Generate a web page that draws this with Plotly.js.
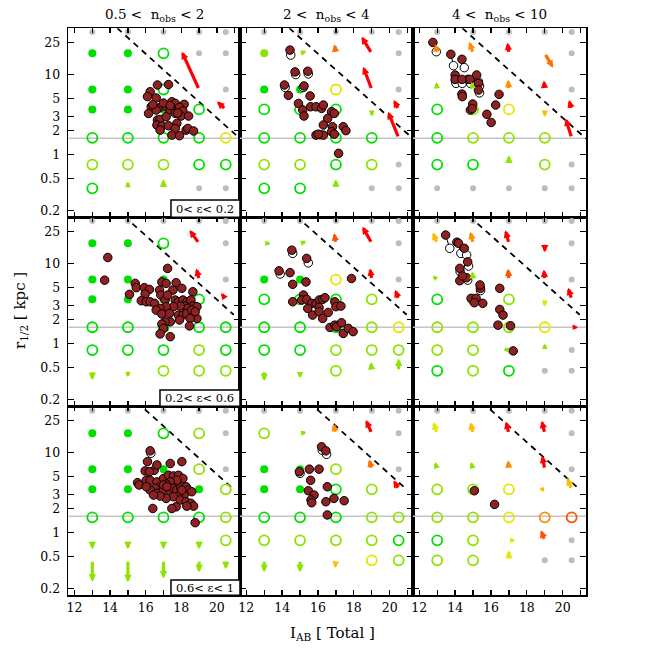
<!DOCTYPE html>
<html><head><meta charset="utf-8">
<script src="https://cdn.plot.ly/plotly-3.0.1.min.js"></script>
<style>body{margin:0;background:#fff}</style>
</head><body><div id="chart" style="width:654px;height:654px"></div>
<script>
// ---------------- data ----------------
const colTitles = ['0.5 <  n<sub>obs</sub> < 2', '2 <  n<sub>obs</sub> < 4', '4 <  n<sub>obs</sub> < 10'];
const rowLabels = ['0< ε< 0.2', '0.2< ε< 0.6', '0.6< ε< 1'];
const xTitle = 'I<sub>AB</sub> [ Total ]';
const yTitle = 'r<sub>1/2</sub> [ kpc ]';
const gridX = [13, 15, 17, 19, 20.5];
const gridR_row1 = [34, 18.4, 6.5, 3.67, 1.62, 0.75, 0.378];
const gridR_row2 = [34, 17.9, 6.3, 3.57, 1.6, 0.83, 0.457];
const gridR_row3 = [33.4, 17.4, 6.2, 3.47, 1.55, 0.8, 0.45];
const sizeLimit = 1.6;
const xTickVals = [12,13,14,15,16,17,18,19,20,21];
const xTickText = ['12','','14','','16','','18','','20',''];
const yTickVals = [0.2, 0.5, 1, 2, 3, 5, 10, 25];
const yTickText = ['0.2','0.5','1','2','3','5','10','25'];
const dashX_row1 = [14.4, 21.3], dashR_row1 = [38, 1.58];
const dashX_row2 = [15.25, 20.95], dashR_row2 = [31.6, 2.29];
const dashX_row3 = [15.95, 20.95], dashR_row3 = [34.7, 3.45];

// grid cells: g = grey dot, F = filled, o = open circle, a = arrow (see arrows_*); letter = colour key
const cells_11 = ['g g g g g','F F oG g g','F F oG a g','F F F oG a','oG oG oG oG oY','oL oL oL oG oG','oG a a g g'];
const cells_12 = ['g g g g g','FL a a a g','F F oY a g','oG oG oG a a','oG oG oG oG a','oL oL oG oL g','oG oG a g g'];
const cells_13 = ['g g g g g','a a a a g','a a a a g','oG oL oY a a','oG oL oL oL a','oG oG a oL g','g g g g g'];
const cells_21 = ['g g g g g','F F oG a g','F F F a g','F F F oG a','oG oG oG oG oG','oG oG oG oL oG','a a oL oL oL'];
const cells_22 = ['g g g g g','a a a a g','F F oY a g','oG oG oG oL a','oG oG oG oL oY','oG oG oL oL oL','a a oL a a'];
const cells_23 = ['g g g g g','a a a a g','a a a a g','oG oL oL a a','oL oL oL oY a','oL oL a a g','oG oL oG g g'];
const cells_31 = ['g g g g g','F F oG oL g','F F F oL g','F F F F oL','oG oG oG oG oL','a a a a oL','a a a a a'];
const cells_32 = ['g g g g g','oL a a a g','F F oL a g','F F oG oL a','oG oG oG oL oL','oL oL oL oL oG','a a a oY oL'];
const cells_33 = ['g g g g g','a a a a g','a a a a g','oL oL oY a a','oL oL oY oO oQ','oG oL a a g','oL oL a g g'];

// arrows: [start x, start level, end x, end r, colour key]
const arrows_11 = [[19,2,18.03,19.3,'R'],[20.5,3,20.0,4.6,'R'],[15,6,15,0.46,'L'],[17,6,17,0.49,'L']];
const arrows_12 = [[15,1,15.35,19.5,'L'],[17,1,16.92,24,'P'],[19,1,18.43,29.7,'R'],[19,2,18.52,12.5,'R'],[19,3,19.0,3.0,'L'],[20.5,3,20.22,4.8,'R'],[20.5,4,19.91,3.43,'R'],[17,6,17,0.49,'L']];
const arrows_13 = [[13,1,12.9,24,'O'],[15,1,14.79,25.7,'O'],[17,1,16.92,25,'R'],[19,1,19.46,12.2,'P'],[13,2,12.95,8.0,'L'],[15,2,14.9,8.0,'L'],[17,2,16.95,8.6,'O'],[19,2,18.95,8.4,'R'],[19,3,19.0,2.95,'A'],[20.5,3,20.35,4.8,'R'],[20.5,4,20.16,2.83,'R'],[17,5,17.0,0.98,'L']];
const arrows_21 = [[19,1,18.46,26.2,'R'],[19,2,18.85,8.7,'R'],[20.5,3,20.24,4.3,'R'],[13,6,13,0.35,'L'],[15,6,15,0.38,'L']];
const arrows_22 = [[13,1,13.35,17.9,'L'],[15,1,15.35,18.8,'L'],[17,1,16.9,24,'Q'],[19,1,18.48,28.9,'R'],[19,2,18.9,8.7,'R'],[20.5,3,20.3,4.7,'R'],[13,6,13,0.34,'L'],[15,6,15,0.37,'L'],[19,6,18.95,0.59,'L'],[20.5,6,20.5,0.65,'L']];
const arrows_23 = [[13,1,12.76,24.5,'A'],[15,1,14.85,25,'O'],[17,1,16.8,26,'R'],[19,1,19.0,13.8,'R'],[13,2,12.75,7.0,'L'],[15,2,14.95,8.0,'L'],[17,2,16.95,8.6,'Q'],[19,2,18.95,8.4,'R'],[19,3,19.0,2.9,'Y'],[20.5,3,20.3,5.0,'R'],[20.5,4,20.85,1.6,'R'],[17,5,16.7,0.85,'L'],[19,5,19.0,1.0,'L']];
const arrows_31 = [[13,5,13,0.62,'L'],[15,5,15,0.62,'L'],[17,5,17,0.62,'L'],[19,5,19,0.62,'L'],[13,6,13,0.243,'L'],[15,6,15,0.24,'L'],[17,6,17,0.267,'L'],[19,6,19,0.32,'L'],[20.5,6,20.5,0.35,'L']];
const arrows_32 = [[15,1,15.35,17.8,'L'],[17,1,16.85,23,'O'],[19,1,18.67,25.5,'R'],[19,2,18.85,8.2,'P'],[20.5,3,20.22,4.5,'R'],[13,6,13,0.32,'L'],[15,6,15,0.32,'L'],[17,6,16.95,0.36,'A']];
const arrows_33 = [[13,1,12.78,24,'Y'],[15,1,14.85,24,'A'],[17,1,16.83,24.5,'R'],[19,1,18.83,25,'R'],[13,2,12.88,7.6,'L'],[15,2,14.88,7.6,'L'],[17,2,16.95,8.0,'O'],[19,2,18.85,9.2,'R'],[19,3,18.7,3.5,'A'],[20.5,3,20.25,4.8,'A'],[17,5,17.35,0.8,'Y'],[19,5,18.78,1.07,'Q'],[17,6,17,0.6,'Y']];

// observed galaxies (dark red); pairs: solid point linked to open circle
const redX_11 = [16.66,17.28,16.25,16.10,16.59,17.47,17.66,18.16,16.31,16.78,17.15,17.90,16.16,16.59,17.38,18.09,16.66,16.81,17.15,17.66,17.99,18.41,16.63,16.91,17.28,17.75,16.81,17.66,18.27,18.37,18.69,17.47,17.90,17.0,17.38,16.4,17.8];
const redR_11 = [7.4,7.5,6.1,5.3,5.1,4.57,4.36,4.24,3.96,3.85,3.96,3.89,3.27,3.6,3.6,3.5,2.7,2.75,2.97,3.27,3.03,3.03,2.34,2.27,2.29,2.45,2.02,2.12,2.02,2.12,1.97,1.75,1.72,4.4,4.1,4.2,3.3];
const redX_12 = [14.35,15.56,14.91,15.15,15.22,15.59,15.89,16.2,16.3,16.76,16.91,16.54,16.3,16.81,15.89,16.11,16.3,16.02,16.76,16.91,17.41,17.56,17.15];
const redR_12 = [5.5,5.4,4.36,3.6,3.03,3.96,3.96,3.78,4.16,3.43,3.27,2.83,2.34,2.23,1.75,1.77,1.75,1.8,1.93,1.8,2.23,1.99,1.035];
const pSolX_12 = [14.44,14.72,15.43,14.13,15.22], pSolR_12 = [20.2,10.8,11.0,7.4,7.2];
const pOpenX_12 = [14.48,14.76,15.46,14.17,15.18], pOpenR_12 = [17.5,10.0,10.2,6.9,6.9];
const redX_13 = [14.7,14.38,14.4,14.98,14.85,15.77,16.01,16.26,16.45,14.95];
const redR_13 = [8.7,5.7,5.3,4.28,3.6,3.18,2.52,4.16,5.65,3.75];
const pSolX_13 = [12.76,13.76,14.38,14.0,14.0,14.38,14.83,15.2,15.3,15.3], pSolR_13 = [25.2,17.9,15.5,9.86,8.7,8.7,8.7,9.86,7.76,6.4];
const pOpenX_13 = [12.95,13.91,14.51,14.02,14.05,14.4,14.85,15.3,15.36,15.36], pOpenR_13 = [19.3,12.9,12.2,8.3,7.76,7.76,7.76,8.14,7.2,5.9];
const redX_21 = [13.87,13.69,15.41,15.47,15.09,15.92,16.21,15.97,15.75,16.03,16.25,16.5,16.78,16.91,17.23,17.15,17.71,17.53,18.03,18.65,16.85,17.09,17.23,17.66,17.84,18.09,18.31,18.54,18.65,18.88,18.16,18.37,17.94,17.56,17.15,16.81,16.59,16.91,17.34,17.84,18.09,18.31,18.69,18.88,18.5,17.9,17.38,17.09,16.91,17.0,18.46,16.81,17.38,18.59,18.78];
const redR_21 = [11.9,6.2,5.65,5.0,4.12,5.0,4.75,4.16,3.43,3.33,3.33,3.18,4.66,5.9,8.7,5.65,5.76,4.66,4.9,4.44,4.04,3.5,4.04,3.5,3.33,3.5,3.33,3.5,2.94,2.89,2.94,2.75,2.94,2.89,2.89,2.75,2.62,2.34,2.38,2.27,2.27,2.38,2.38,2.06,2.06,1.97,1.87,1.87,1.75,1.55,1.66,1.32,1.22,2.62,2.5];
const redX_22 = [14.44,14.59,15.33,17.87,15.19,15.09,14.59,15.37,15.65,15.89,16.07,16.26,16.39,15.43,15.7,16.06,16.06,16.26,16.57,16.94,17.0,17.28,16.67,16.94,17.04,17.31,17.41,17.69,17.96];
const redR_22 = [7.7,5.5,5.9,6.5,4.04,3.5,3.33,3.57,3.18,3.18,3.5,3.57,3.74,2.75,2.27,2.83,2.5,2.06,2.45,3.33,2.89,2.94,1.59,1.7,1.62,1.82,1.34,1.55,1.41];
const pSolX_22 = [14.54,15.37,13.83], pSolR_22 = [14.7,11.6,8.1];
const pOpenX_22 = [14.59,15.46,13.89], pOpenR_22 = [13.4,10.2,7.4];
const redX_23 = [14.1,14.26,14.64,15.41,16.49,14.89,15.17,15.07,15.54,16.49,16.67,16.39,17.09,17.24];
const redR_23 = [18.5,6.1,6.65,4.9,4.9,3.67,3.67,3.24,3.18,2.67,2.27,1.7,1.67,0.81];
const pSolX_23 = [13.47,14.19,14.51,14.7,14.26,14.41,15.39], pSolR_23 = [22.7,17.9,15.5,10.5,8.7,7.0,5.4];
const pOpenX_23 = [13.7,14.32,14.64,14.75,14.28,14.7,15.42], pOpenR_23 = [15.5,13.4,12.8,9.3,7.9,6.2,4.6];
const redX_31 = [16.1,17.38,18.03,15.97,16.48,16.21,16.63,15.54,15.63,16.03,16.25,16.63,17.0,17.28,17.56,17.84,18.09,17.75,17.38,17.15,16.81,16.53,16.25,16.03,16.63,17.0,17.34,17.56,17.75,17.97,18.27,18.41,18.59,18.16,17.84,17.56,17.15,16.81,16.44,17.94,18.27,18.54,18.69,18.31,17.71,17.47,16.4,18.78,17.0,17.19,18.03];
const redR_31 = [7.7,7.3,7.7,5.9,6.0,5.76,7.0,4.2,3.93,4.5,4.5,4.3,4.75,5.2,5.1,5.2,4.75,4.5,4.3,4.04,3.74,3.57,3.4,3.74,3.09,3.4,3.4,3.57,3.4,3.63,3.74,3.4,3.24,2.94,2.86,2.8,2.67,2.86,2.94,2.55,2.43,2.32,2.14,2.14,2.1,2.0,2.0,1.33,3.93,3.74,3.4];
const pSolX_31 = [16.25], pSolR_31 = [10.5], pOpenX_31 = [16.29], pOpenR_31 = [9.8];
const redX_32 = [15.52,16.06,15.59,15.46,15.78,15.61,15.65,16.44,16.52,16.89,17.46,16.52];
const redR_32 = [6.2,6.2,4.5,3.33,2.94,2.55,2.36,2.43,3.74,2.67,2.5,1.66];
const pSolX_32 = [16.2,16.44,14.96], pSolR_32 = [11.8,10.5,5.76];
const pOpenX_32 = [16.24,16.48,15.0], pOpenR_32 = [10.7,9.5,5.5];
const redX_33 = [15.07,16.2], redR_33 = [3.33,2.25];

// ---------------- styling ----------------
const FONT = 'DejaVu Serif';
const PALETTE = {G:'#00e000', L:'#8fe300', Y:'#e6e600', A:'#ffbb00', O:'#ff8c00', P:'#ff7000', Q:'#ff5000', R:'#ff0000'};
const GREY = '#bdbdbd';
const X_RANGE = [11.65, 21.3];
const Y_RANGE = [-0.784, 1.578];
const W = 654;
const PX_PER_MAG = 17.8, PX_PER_DEX = 80;
const xDom = [[68.3/W, 240/W],[240/W, 413/W],[413/W, 586/W]];
const yDom = [[1-217.3/W, 1-28.3/W],[1-406.3/W, 1-217.3/W],[1-595.3/W, 1-406.3/W]];
const boxX0 = [0.598, 0.534, 0.598];
const boxY1 = [0.0915, 0.086, 0.081];

const E = [];
const panels = [
 {cells:cells_11, arrows:arrows_11, rx:redX_11, rr:redR_11, sx:E, sr:E, ox:E, or:E, lv:gridR_row1, dx:dashX_row1, dr:dashR_row1},
 {cells:cells_12, arrows:arrows_12, rx:redX_12, rr:redR_12, sx:pSolX_12, sr:pSolR_12, ox:pOpenX_12, or:pOpenR_12, lv:gridR_row1, dx:dashX_row1, dr:dashR_row1},
 {cells:cells_13, arrows:arrows_13, rx:redX_13, rr:redR_13, sx:pSolX_13, sr:pSolR_13, ox:pOpenX_13, or:pOpenR_13, lv:gridR_row1, dx:dashX_row1, dr:dashR_row1},
 {cells:cells_21, arrows:arrows_21, rx:redX_21, rr:redR_21, sx:E, sr:E, ox:E, or:E, lv:gridR_row2, dx:dashX_row2, dr:dashR_row2},
 {cells:cells_22, arrows:arrows_22, rx:redX_22, rr:redR_22, sx:pSolX_22, sr:pSolR_22, ox:pOpenX_22, or:pOpenR_22, lv:gridR_row2, dx:dashX_row2, dr:dashR_row2},
 {cells:cells_23, arrows:arrows_23, rx:redX_23, rr:redR_23, sx:pSolX_23, sr:pSolR_23, ox:pOpenX_23, or:pOpenR_23, lv:gridR_row2, dx:dashX_row2, dr:dashR_row2},
 {cells:cells_31, arrows:arrows_31, rx:redX_31, rr:redR_31, sx:pSolX_31, sr:pSolR_31, ox:pOpenX_31, or:pOpenR_31, lv:gridR_row3, dx:dashX_row3, dr:dashR_row3},
 {cells:cells_32, arrows:arrows_32, rx:redX_32, rr:redR_32, sx:pSolX_32, sr:pSolR_32, ox:pOpenX_32, or:pOpenR_32, lv:gridR_row3, dx:dashX_row3, dr:dashR_row3},
 {cells:cells_33, arrows:arrows_33, rx:redX_33, rr:redR_33, sx:E, sr:E, ox:E, or:E, lv:gridR_row3, dx:dashX_row3, dr:dashR_row3}
];

const traces = [], annotations = [], shapes = [];
const layout = {
  width: 654, height: 654, margin:{l:0,r:0,t:0,b:0},
  paper_bgcolor:'white', plot_bgcolor:'white', showlegend:false, hovermode:false,
  font:{family:FONT, color:'black', size:12}
};

panels.forEach((p, i) => {
  const row = Math.floor(i/3), col = i%3;
  const s = i === 0 ? '' : String(i+1);
  const xa = 'x'+s, ya = 'y'+s;
  layout['xaxis'+s] = {
    domain: xDom[col], range: X_RANGE, anchor: ya, fixedrange:true,
    tickmode:'array', tickvals:xTickVals, ticktext:xTickText, showticklabels: row === 2,
    ticks:'inside', ticklen:5, tickwidth:1.3, tickcolor:'black',
    showline:true, linecolor:'black', linewidth:1.6, mirror:'allticks',
    showgrid:false, zeroline:false, tickfont:{family:FONT, size:12.5, color:'black'}
  };
  layout['yaxis'+s] = {
    domain: yDom[row], type:'log', range: Y_RANGE, anchor: xa, fixedrange:true,
    tickmode:'array', tickvals:yTickVals, ticktext:yTickText, showticklabels: col === 0,
    ticks:'inside', ticklen:6, tickwidth:1.3, tickcolor:'black', ticklabelstandoff:4,
    showline:true, linecolor:'black', linewidth:1.6, mirror:'allticks',
    showgrid:false, zeroline:false, tickfont:{family:FONT, size:12.5, color:'black'}
  };
  // grid markers
  const gx=[], gy=[], fx=[], fy=[], fc=[], ox=[], oy=[], oc=[];
  p.cells.forEach((line, lvl) => {
    line.split(' ').forEach((code, k) => {
      const x = gridX[k], r = p.lv[lvl];
      if (code === 'g') { gx.push(x); gy.push(r); }
      else if (code[0] === 'F') { fx.push(x); fy.push(r); fc.push(PALETTE[code[1] || 'G']); }
      else if (code[0] === 'o') { ox.push(x); oy.push(r); oc.push(PALETTE[code[1]]); }
    });
  });
  traces.push({x:X_RANGE, y:[sizeLimit, sizeLimit], xaxis:xa, yaxis:ya, mode:'lines', line:{color:'#c4c4c4', width:1.6}});
  traces.push({x:p.dx, y:p.dr, xaxis:xa, yaxis:ya, mode:'lines', line:{color:'black', width:1.8, dash:'6px,5px'}});
  traces.push({x:gx, y:gy, xaxis:xa, yaxis:ya, mode:'markers', marker:{color:GREY, size:6}});
  traces.push({x:fx, y:fy, xaxis:xa, yaxis:ya, mode:'markers', marker:{color:fc, size:8}});
  traces.push({x:ox, y:oy, xaxis:xa, yaxis:ya, mode:'markers', marker:{symbol:'circle-open', color:oc, size:10, line:{width:1.8}}});
  // arrows: head size follows arrow length (arrowsize has a floor of 0.3 in plotly)
  p.arrows.forEach(a => {
    const [x0, lvl, x1, r1, c] = a;
    const y0 = Math.log10(p.lv[lvl]), y1 = Math.log10(r1);
    const len = Math.hypot((x1-x0)*PX_PER_MAG, (y1-y0)*PX_PER_DEX);
    const w = 3.2;
    const head = Math.min(7.4, Math.max(4.8, 0.85*len));
    const asz = Math.max(0.3, head/5/w);
    annotations.push({xref:xa, yref:ya, axref:xa, ayref:ya, x:x1, y:y1, ax:x0, ay:y0,
      text:'', showarrow:true, arrowhead:2, arrowsize:asz, arrowwidth:w, arrowcolor:PALETTE[c], standoff:0, startstandoff:0});
  });
  // links between paired galaxies
  const lx = [], ly = [];
  p.sx.forEach((x, k) => { lx.push(x, p.ox[k], null); ly.push(p.sr[k], p.or[k], null); });
  traces.push({x:lx, y:ly, xaxis:xa, yaxis:ya, mode:'lines', line:{color:'black', width:1}});
  traces.push({x:p.ox, y:p.or, xaxis:xa, yaxis:ya, mode:'markers', marker:{color:'white', size:8.5, line:{color:'black', width:1}}});
  traces.push({x:p.rx.concat(p.sx), y:p.rr.concat(p.sr), xaxis:xa, yaxis:ya, mode:'markers', marker:{color:'#8e2222', size:8.5, line:{color:'black', width:1}}});
  // row label boxes
  if (col === 0) {
    shapes.push({type:'rect', xref:xa+' domain', yref:ya+' domain', x0:boxX0[row], x1:1, y0:0, y1:boxY1[row],
      line:{color:'black', width:1.5}, fillcolor:'white', layer:'above'});
    annotations.push({xref:xa+' domain', yref:ya+' domain', x:(boxX0[row]+1)/2, y:boxY1[row]/2, text:rowLabels[row],
      showarrow:false, xanchor:'center', yanchor:'middle', font:{family:FONT, size:11.5, color:'black'}});
  }
});

colTitles.forEach((t, c) => {
  annotations.push({xref:'paper', yref:'paper', x:(xDom[c][0]+xDom[c][1])/2, y:1-15/W, text:t, showarrow:false,
    xanchor:'center', yanchor:'middle', font:{family:FONT, size:13.5, color:'black'}});
});
annotations.push({xref:'paper', yref:'paper', x:20/W, y:1-311/W, text:yTitle, textangle:-90, showarrow:false,
  xanchor:'center', yanchor:'middle', font:{family:FONT, size:15, color:'black'}});
annotations.push({xref:'paper', yref:'paper', x:333/W, y:1-633/W, text:xTitle, showarrow:false,
  xanchor:'center', yanchor:'middle', font:{family:FONT, size:15, color:'black'}});

layout.annotations = annotations;
layout.shapes = shapes;
Plotly.newPlot('chart', traces, layout, {staticPlot:true, displayModeBar:false});
</script>
</body></html>
